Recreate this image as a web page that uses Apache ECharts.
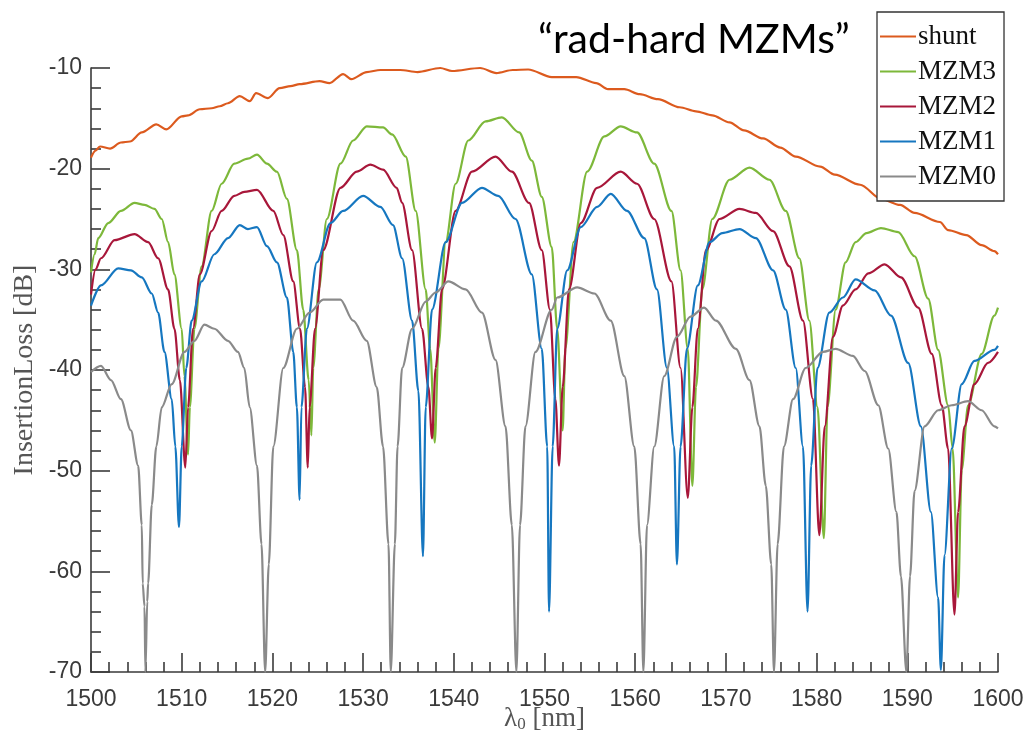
<!DOCTYPE html>
<html>
<head>
<meta charset="utf-8">
<script src="https://cdn.jsdelivr.net/npm/echarts@6/dist/echarts.min.js"></script>
<style>
html,body{margin:0;padding:0;background:#fff;}
#chart{width:1025px;height:738px;}
</style>
</head>
<body>
<div id="chart"></div>
<script>
// ---- data ----
const seriesNames = ['shunt', 'MZM3', 'MZM2', 'MZM1', 'MZM0'];
const xTicks = [1500, 1510, 1520, 1530, 1540, 1550, 1560, 1570, 1580, 1590, 1600];
const yTicks = [-70, -60, -50, -40, -30, -20, -10];

const shuntX = [1500.0,1500.5,1501.0,1502.1,1503.3,1504.3,1505.6,1507.2,1508.3,1510.0,1510.7,1512.0,1513.3,1514.2,1515.1,1516.4,1517.5,1518.2,1519.5,1520.8,1522.0,1523.0,1525.2,1526.3,1527.8,1528.7,1530.4,1531.9,1534.1,1536.0,1538.5,1539.8,1542.9,1544.7,1546.5,1548.2,1550.8,1553.5,1555.7,1557.0,1558.8,1560.5,1562.5,1564.9,1566.7,1568.5,1570.4,1572.0,1574.1,1576.0,1577.7,1580.4,1582.0,1584.8,1587.1,1589.2,1590.8,1593.6,1594.5,1596.5,1598.2,1599.6,1600.0];
const shuntY = [-18.9,-18.2,-17.8,-18.0,-17.4,-17.3,-16.4,-15.6,-16.1,-14.8,-14.7,-14.1,-14.0,-13.8,-13.5,-12.8,-13.3,-12.5,-13.0,-12.0,-11.8,-11.6,-11.3,-11.5,-10.6,-11.1,-10.4,-10.2,-10.2,-10.4,-10.0,-10.3,-10.0,-10.5,-10.2,-10.15,-10.9,-10.9,-11.5,-12.1,-12.1,-12.6,-13.1,-13.9,-14.3,-14.7,-15.4,-16.2,-17.0,-17.9,-18.8,-19.8,-20.6,-21.6,-23.0,-23.6,-24.4,-25.3,-26.1,-26.6,-27.6,-28.2,-28.5];

const mzm3X = [1500.0,1500.4,1500.8,1501.9,1503.3,1504.8,1505.9,1507.0,1507.8,1508.5,1509.2,1510.0,1510.3,1510.7,1510.9,1511.4,1512.2,1513.3,1514.4,1515.8,1517.3,1518.3,1519.4,1520.5,1521.6,1522.7,1523.4,1524.0,1524.3,1524.5,1525.1,1526.0,1527.5,1528.9,1530.4,1532.2,1533.2,1534.7,1535.8,1536.9,1537.4,1537.9,1538.3,1539.1,1540.2,1541.6,1543.5,1545.3,1547.2,1548.6,1549.7,1550.8,1551.4,1552.0,1552.3,1553.2,1554.7,1556.6,1558.4,1560.2,1562.1,1564.0,1565.0,1565.8,1566.3,1566.7,1567.4,1568.5,1570.4,1572.6,1574.8,1576.6,1578.1,1579.2,1580.1,1580.8,1581.2,1582.1,1583.2,1584.3,1585.5,1587.1,1589.0,1590.8,1592.3,1593.4,1594.5,1595.0,1595.6,1596.0,1596.7,1598.2,1599.6,1600.0];
const mzm3Y = [-30.3,-28.5,-26.9,-25.4,-24.2,-23.4,-23.6,-24.0,-25.0,-27.3,-30.5,-35.9,-40.6,-48.4,-43.7,-35.9,-29.7,-24.2,-21.5,-19.5,-19.0,-18.6,-19.5,-20.3,-23.0,-28.1,-34.0,-41.0,-46.5,-39.8,-32.0,-25.0,-19.5,-17.2,-15.8,-15.9,-16.6,-18.8,-24.2,-32.0,-37.9,-47.2,-37.9,-27.3,-21.5,-17.2,-15.3,-14.9,-16.4,-19.2,-22.8,-27.8,-35.9,-46.0,-37.9,-27.3,-20.3,-16.8,-15.8,-16.4,-19.5,-24.2,-30.1,-37.9,-51.5,-41.7,-32.0,-25.0,-21.1,-19.9,-21.1,-24.2,-28.9,-35.1,-43.7,-56.7,-43.7,-34.0,-29.3,-27.3,-26.4,-25.9,-26.3,-28.7,-32.9,-38.0,-43.5,-47.8,-62.6,-49.9,-43.5,-38.4,-34.6,-33.8];

const mzm2X = [1500.0,1500.5,1501.1,1502.6,1504.8,1506.3,1507.4,1508.5,1509.2,1509.8,1510.4,1510.7,1511.25,1512.0,1513.3,1514.4,1515.8,1516.9,1518.3,1520.1,1521.2,1522.3,1523.05,1523.6,1523.9,1524.1,1524.7,1525.6,1527.5,1529.3,1530.8,1532.2,1533.7,1534.3,1535.4,1536.5,1537.2,1537.6,1538.0,1538.7,1540.2,1542.0,1544.6,1546.4,1548.3,1549.7,1550.6,1551.2,1551.6,1552.0,1552.7,1554.0,1555.8,1558.4,1560.2,1562.1,1564.0,1565.0,1565.8,1566.3,1566.9,1567.8,1569.3,1571.5,1573.3,1575.2,1577.0,1578.5,1579.6,1580.3,1580.9,1581.8,1582.9,1584.3,1585.7,1587.5,1589.3,1591.2,1592.7,1593.8,1594.5,1595.2,1595.6,1596.3,1597.4,1598.9,1600.0];
const mzm2Y = [-32.5,-30.0,-28.9,-27.1,-26.5,-27.3,-28.9,-32.0,-35.9,-41.0,-49.7,-43.7,-35.9,-30.5,-26.2,-24.2,-22.7,-22.3,-22.1,-24.2,-26.6,-31.2,-35.9,-41.7,-49.7,-43.7,-35.9,-28.1,-21.9,-20.3,-19.6,-20.1,-21.9,-23.4,-28.1,-35.9,-41.7,-46.8,-39.8,-32.0,-24.2,-20.3,-18.8,-20.3,-23.4,-28.1,-34.0,-42.9,-49.5,-41.7,-32.0,-25.4,-21.9,-20.3,-21.5,-25.0,-31.2,-39.8,-52.7,-43.7,-35.9,-28.1,-25.0,-24.0,-24.4,-26.2,-29.7,-35.1,-42.9,-56.4,-45.6,-36.7,-33.6,-32.0,-30.4,-29.5,-30.8,-33.8,-38.4,-43.5,-47.8,-64.3,-54.1,-45.6,-41.4,-39.3,-38.2];

const mzm1X = [1500.0,1501.1,1503.0,1504.4,1505.6,1506.7,1507.4,1508.1,1508.9,1509.3,1509.7,1510.0,1510.5,1511.1,1512.2,1513.6,1515.1,1516.4,1517.3,1518.3,1519.4,1520.5,1521.6,1522.3,1522.7,1523.0,1523.2,1523.8,1524.9,1526.4,1527.8,1530.0,1531.9,1533.3,1534.3,1535.4,1536.1,1536.6,1536.9,1537.6,1539.1,1540.9,1543.1,1544.9,1546.8,1548.6,1549.7,1550.3,1550.5,1550.9,1551.4,1552.5,1554.0,1555.8,1557.3,1559.1,1561.0,1562.4,1563.5,1564.3,1564.6,1565.0,1565.7,1566.9,1568.2,1569.6,1571.5,1573.3,1575.2,1576.6,1577.7,1578.5,1579.0,1579.4,1580.1,1581.4,1582.9,1584.3,1586.4,1588.2,1590.1,1591.5,1592.6,1593.4,1593.7,1594.1,1594.9,1596.0,1597.4,1599.6,1600.0];
const mzm1Y = [-33.6,-31.6,-29.9,-30.1,-30.8,-32.4,-34.3,-38.2,-42.9,-47.6,-55.6,-47.6,-39.8,-35.1,-31.2,-28.5,-26.9,-25.6,-26.0,-25.8,-27.7,-29.3,-32.8,-38.2,-43.7,-52.9,-43.7,-35.9,-29.3,-25.4,-24.2,-22.7,-23.8,-25.6,-28.9,-35.1,-42.1,-58.5,-43.7,-34.0,-27.3,-23.4,-21.9,-22.7,-25.0,-30.5,-37.9,-47.6,-64.0,-47.6,-35.9,-30.1,-25.8,-23.8,-22.5,-24.2,-26.9,-32.0,-39.8,-47.6,-59.3,-47.6,-37.9,-31.6,-27.3,-26.4,-26.0,-26.9,-30.1,-34.0,-39.8,-47.6,-64.0,-49.5,-39.8,-34.3,-32.8,-31.0,-32.1,-34.6,-39.3,-45.6,-54.1,-62.6,-69.8,-58.4,-47.8,-41.4,-39.1,-38.0,-37.6];

const mzm0X = [1500.0,1501.1,1502.2,1503.3,1504.4,1505.2,1505.6,1505.7,1505.9,1506.0,1506.2,1506.3,1506.7,1507.2,1507.8,1508.9,1510.3,1511.4,1512.5,1513.6,1515.1,1516.2,1516.9,1517.5,1518.3,1518.8,1519.2,1519.6,1520.1,1521.2,1522.7,1524.1,1525.6,1527.5,1528.9,1530.4,1531.5,1532.2,1532.8,1533.05,1533.5,1533.8,1534.3,1535.4,1536.9,1538.0,1539.4,1541.3,1543.1,1544.6,1545.7,1546.4,1546.9,1547.3,1547.9,1549.0,1550.8,1551.4,1553.6,1555.5,1557.3,1558.8,1559.9,1560.6,1560.9,1561.3,1562.1,1563.2,1564.6,1566.1,1567.6,1568.9,1571.1,1572.6,1573.7,1574.4,1575.0,1575.3,1575.7,1576.4,1577.4,1578.8,1580.7,1582.1,1584.0,1585.3,1586.8,1587.9,1588.8,1589.3,1589.9,1590.3,1590.8,1591.9,1593.4,1594.9,1596.7,1598.2,1599.6,1600.0];
const mzm0Y = [-40.2,-39.6,-41.0,-42.9,-46.0,-49.5,-55.4,-61.2,-63.5,-70.0,-63.0,-61.2,-53.4,-47.6,-43.7,-41.4,-38.2,-37.1,-35.5,-35.9,-37.1,-38.2,-39.8,-43.7,-49.5,-57.3,-70.0,-59.3,-47.6,-39.8,-35.9,-34.3,-33.0,-33.0,-35.1,-37.1,-41.7,-47.6,-57.3,-70.0,-57.3,-47.6,-39.8,-35.9,-33.2,-32.3,-31.2,-32.0,-34.3,-39.0,-45.6,-55.4,-70.0,-55.4,-45.6,-38.2,-34.0,-32.8,-31.8,-32.4,-35.1,-40.6,-47.6,-57.3,-70.0,-55.4,-47.6,-40.6,-36.7,-34.7,-33.8,-35.1,-37.9,-41.0,-45.6,-51.5,-59.3,-70.0,-57.3,-47.6,-42.9,-39.8,-38.2,-37.9,-38.6,-40.1,-43.5,-47.8,-54.1,-60.5,-70.0,-60.5,-52.0,-45.6,-44.0,-43.5,-43.1,-44.0,-45.6,-45.8];

const colors = ['#DC5A1E', '#7DB83A', '#A8173A', '#1677C0', '#8A8A8A'];

// ---- build ----
function pairs(xs, ys) { return xs.map((x, i) => [x, ys[i]]); }
const allData = [pairs(shuntX, shuntY), pairs(mzm3X, mzm3Y), pairs(mzm2X, mzm2Y), pairs(mzm1X, mzm1Y), pairs(mzm0X, mzm0Y)];

const axisColor = '#3a3a3a';
const chart = echarts.init(document.getElementById('chart'), null, { renderer: 'canvas' });
chart.setOption({
  backgroundColor: '#ffffff',
  animation: false,
  color: colors,
  grid: { left: 91, right: 27, top: 68, bottom: 66, containLabel: false, outerBoundsMode: 'none' },
  legend: {
    data: seriesNames,
    orient: 'vertical',
    left: 877,
    top: 12,
    icon: 'rect',
    itemWidth: 36,
    itemHeight: 2,
    itemGap: 8,
    padding: [11, 8, 11, 3],
    borderColor: '#333',
    borderWidth: 1.3,
    backgroundColor: '#fff',
    selectedMode: false,
    textStyle: { fontFamily: 'Liberation Serif', fontSize: 27, color: '#111', lineHeight: 26, padding: [0, 0, 0, -3] }
  },
  xAxis: {
    type: 'value',
    min: 1500, max: 1600, interval: 10,
    name: '{l|λ}{s|0}{l| [nm]}',
    nameLocation: 'middle',
    nameGap: 33,
    nameMoveOverlap: false,
    nameTextStyle: {
      verticalAlign: 'top',
      rich: {
        l: { fontFamily: 'Liberation Serif', fontSize: 27, lineHeight: 28, color: '#555', verticalAlign: 'top' },
        s: { fontFamily: 'Liberation Serif', fontSize: 17, lineHeight: 17, color: '#555', verticalAlign: 'bottom' }
      }
    },
    axisLine: { show: true, onZero: false, lineStyle: { color: axisColor, width: 1.6 } },
    axisTick: { show: true, inside: true, length: 19, lineStyle: { color: axisColor, width: 1.6 } },
    minorTick: { show: true, splitNumber: 5, length: 10, lineStyle: { color: axisColor, width: 1.6 } },
    splitLine: { show: false },
    axisLabel: { margin: 16, fontFamily: 'Liberation Sans', fontSize: 23, color: '#3a3a3a',
      formatter: v => xTicks.includes(v) ? String(v) : '' }
  },
  yAxis: {
    type: 'value',
    min: -70, max: -10, interval: 10,
    name: 'InsertionLoss [dB]',
    nameLocation: 'middle',
    nameGap: 52,
    nameMoveOverlap: false,
    nameRotate: 90,
    nameTextStyle: { fontFamily: 'Liberation Serif', fontSize: 28, color: '#555' },
    axisLine: { show: true, onZero: false, lineStyle: { color: axisColor, width: 1.6 } },
    axisTick: { show: true, inside: true, length: 19, lineStyle: { color: axisColor, width: 1.6 } },
    minorTick: { show: true, splitNumber: 5, length: 10, lineStyle: { color: axisColor, width: 1.6 } },
    splitLine: { show: false },
    axisLabel: { margin: 9, fontFamily: 'Liberation Sans', fontSize: 23, color: '#3a3a3a',
      formatter: v => yTicks.includes(v) ? String(v) : '' }
  },
  graphic: [{
    type: 'text',
    left: 538, top: 19,
    style: { text: '\u201Crad-hard MZMs\u201D', fontFamily: 'Lato', fontSize: 41, fill: '#000' }
  }],
  series: seriesNames.map((name, i) => ({
    name,
    type: 'line',
    data: allData[i],
    showSymbol: false,
    symbol: 'none',
    clip: false,
    smooth: 0.3,
    smoothMonotone: 'x',
    lineStyle: { width: 2.2, color: colors[i] },
    itemStyle: { color: colors[i] },
    z: 2 + i
  }))
});
</script>
</body>
</html>
